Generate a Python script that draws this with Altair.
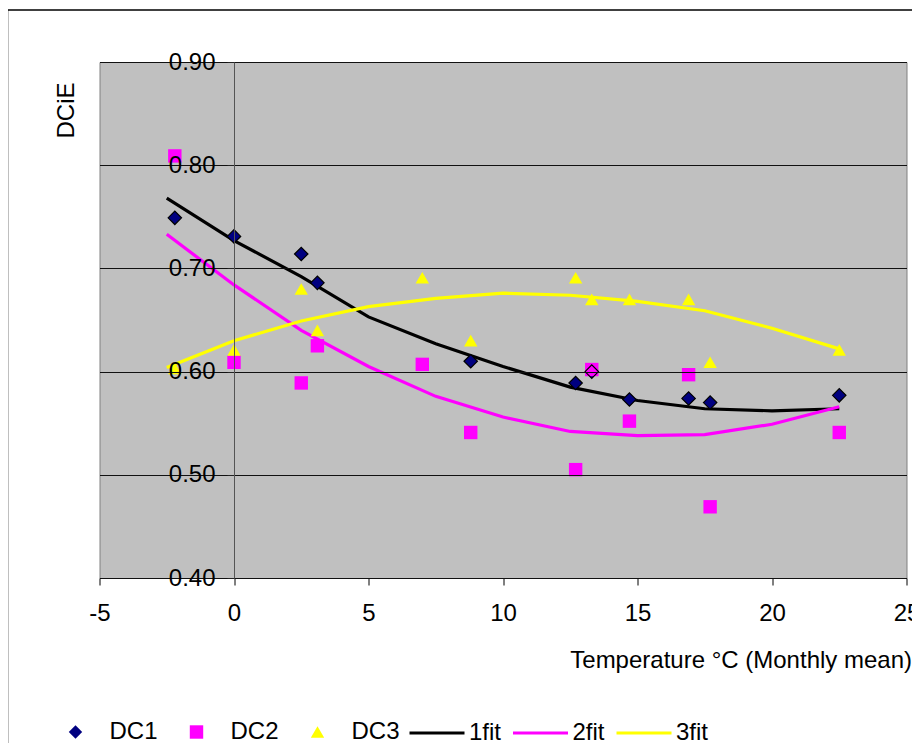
import altair as alt
import pandas as pd

# ---- data ----
temps = [-2.2, 0.0, 2.5, 3.1, 7.0, 8.8, 12.7, 13.3, 14.7, 16.9, 17.7, 22.5]
dc1 = [0.749, 0.731, 0.714, 0.686, None, 0.610, 0.589, 0.600, 0.573, 0.574, 0.570, 0.577]
dc2 = [0.809, 0.609, 0.589, 0.625, 0.607, 0.541, 0.505, 0.602, 0.552, 0.597, 0.469, 0.541]
dc3 = [0.603, 0.621, 0.680, 0.640, 0.691, 0.630, 0.691, 0.670, 0.670, 0.670, 0.609, 0.621]

fit_x = [-2.5, 0, 2.5, 5, 7.5, 10, 12.5, 15, 17.5, 20, 22.5]
fit1 = [0.768, 0.727, 0.692, 0.653, 0.627, 0.605, 0.585, 0.572, 0.564, 0.562, 0.564]
fit2 = [0.733, 0.684, 0.640, 0.605, 0.576, 0.556, 0.542, 0.538, 0.539, 0.549, 0.566]
fit3 = [0.604, 0.630, 0.649, 0.663, 0.671, 0.676, 0.674, 0.668, 0.659, 0.642, 0.622]

point_series = ["DC1", "DC2", "DC3"]
fit_series = ["1fit", "2fit", "3fit"]
x_ticks = [-5, 0, 5, 10, 15, 20, 25]
y_ticks = [0.4, 0.5, 0.6, 0.7, 0.8, 0.9]

rows = []
for name, vals in zip(point_series, [dc1, dc2, dc3]):
    for t, v in zip(temps, vals):
        if v is not None:
            rows.append({"temp": t, "dcie": v, "series": name})
points_df = pd.DataFrame(rows)

frows = []
for name, vals in zip(fit_series, [fit1, fit2, fit3]):
    for t, v in zip(fit_x, vals):
        frows.append({"temp": t, "dcie": v, "fit": name, "order": t})
fits_df = pd.DataFrame(frows)

FONT = "Liberation Sans"
W, H = 807, 516

x_scale = alt.Scale(domain=[-5, 25], nice=False, zero=False)
y_scale = alt.Scale(domain=[0.4, 0.9], nice=False, zero=False)

x_axis = alt.Axis(
    values=x_ticks, title="Temperature °C (Monthly mean)", grid=False,
    domainColor="black", domainWidth=1, tickColor="black", tickSize=7, tickWidth=1,
    labelFontSize=24, labelPadding=16, labelFlush=False, labelOverlap=False,
    labelColor="black", labelExpr="'' + datum.value",
    titleFontSize=24, titleFontWeight="normal", titleColor="black",
    titleX=812, titleY=89, titleAlign="right", titleBaseline="alphabetic",
)
y_axis = alt.Axis(
    values=y_ticks, format=".2f", title="DCiE", offset=-134.5,
    grid=True, gridColor="#111111", gridWidth=1,
    domainColor="#555555", domainWidth=1, tickColor="#222222", tickSize=7, tickWidth=1,
    labelFontSize=24, labelPadding=12, labelColor="black", labelOverlap=False,
    labelFlush=False,
    titleFontSize=24, titleFontWeight="normal", titleColor="black",
    titleX=-161, titleY=48, titleAngle=270, titleAlign="center",
    titleBaseline="alphabetic", zindex=1,
)

pt_legend = alt.Legend(
    title=None, orient="none", legendX=-36, legendY=658, direction="horizontal",
    symbolSize=180, symbolStrokeWidth=0, labelFontSize=24, labelColor="black",
    labelOffset=22, columnPadding=26, padding=0,
)
line_legend = alt.Legend(
    title=None, orient="none", legendX=308.5, legendY=642, direction="horizontal",
    symbolType="stroke", symbolSize=3025, symbolStrokeWidth=3,
    labelFontSize=24, labelColor="black", labelOffset=3, columnPadding=4.5, padding=0,
)

lines = alt.Chart(fits_df).mark_line(strokeWidth=3.2).encode(
    x=alt.X("temp:Q", scale=x_scale, axis=x_axis),
    y=alt.Y("dcie:Q", scale=y_scale, axis=y_axis),
    stroke=alt.Stroke("fit:N", scale=alt.Scale(domain=fit_series,
                      range=["#000000", "#FF00FF", "#FFFF00"]), legend=line_legend),
    order="order:Q",
)

points = alt.Chart(points_df).mark_point(filled=True, size=180, strokeWidth=0, opacity=1).encode(
    x=alt.X("temp:Q", scale=x_scale),
    y=alt.Y("dcie:Q", scale=y_scale),
    fill=alt.Fill("series:N", scale=alt.Scale(domain=point_series,
                  range=["#000080", "#FF00FF", "#FFFF00"]), legend=pt_legend),
    shape=alt.Shape("series:N", scale=alt.Scale(domain=point_series,
                    range=["diamond", "square", "triangle-up"]), legend=pt_legend),
)

# black outline of the DC1 diamonds
outline = alt.Chart(points_df).transform_filter(
    alt.datum.series == "DC1"
).mark_point(shape="diamond", filled=False, size=180, stroke="black", strokeWidth=1.2, opacity=1).encode(
    x=alt.X("temp:Q", scale=x_scale),
    y=alt.Y("dcie:Q", scale=y_scale),
)

frame_data = alt.Data(values=[{"k": 1}])
frame_left = alt.Chart(frame_data).mark_rule(color="black", strokeWidth=1.5).encode(
    x=alt.value(-92), y=alt.value(-52), y2=alt.value(700))
frame_top = alt.Chart(frame_data).mark_rule(color="black", strokeWidth=1.5).encode(
    x=alt.value(-92), x2=alt.value(830), y=alt.value(-52))

chart = alt.layer(lines, points, outline, frame_left, frame_top).properties(
    width=W, height=H,
    autosize=alt.AutoSizeParams(type="none"),
    padding={"left": 91.5, "top": 54, "right": 5.5, "bottom": 165},
    background="white",
).configure(font=FONT).configure_view(
    fill="#C0C0C0", stroke="#808080", strokeWidth=1
)

chart.save("out.html", embed_options={"renderer": "svg", "actions": False})
